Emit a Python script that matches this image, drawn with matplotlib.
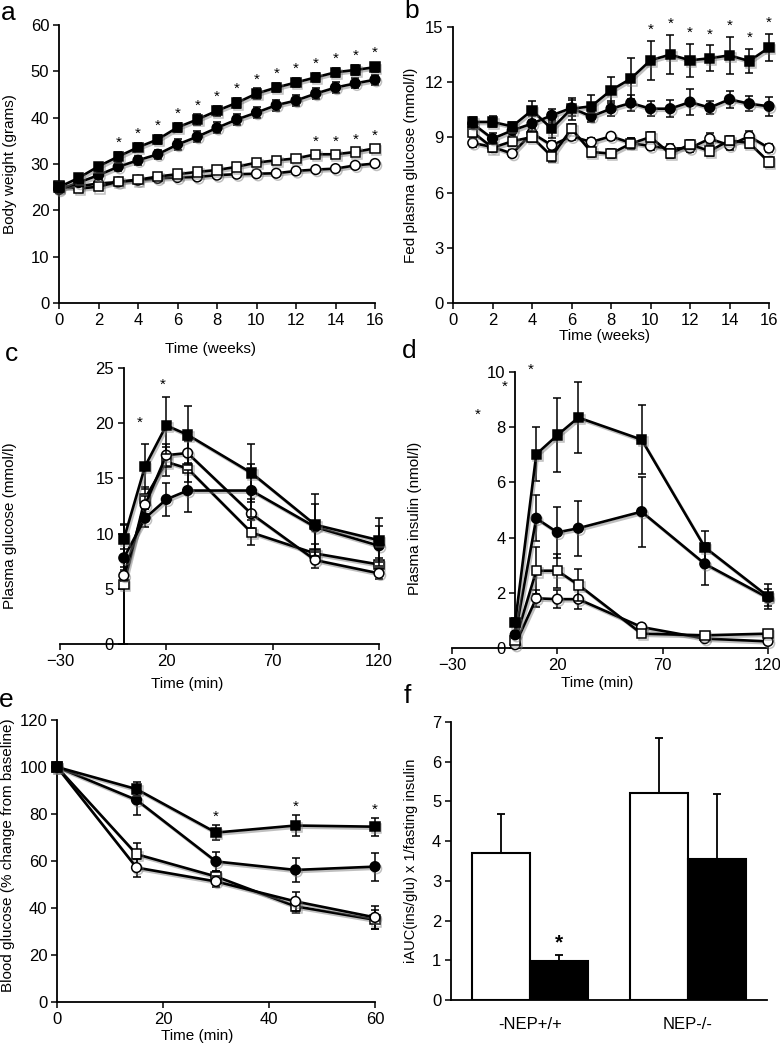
import matplotlib
matplotlib.use('Agg')
import matplotlib.pyplot as plt
import matplotlib.patheffects as pe
import numpy as np

plt.rcParams['font.family'] = ['Liberation Sans', 'DejaVu Sans']

# ---------------- Data ----------------
# Panel a: body weight (grams) vs weeks
weeks_a = list(range(0, 17))
a_fsq = [25.0, 27.0, 29.5, 31.6, 33.6, 35.3, 37.9, 39.6, 41.5, 43.2, 45.2, 46.5, 47.6, 48.7, 49.8, 50.3, 50.9]
a_fsq_err = [0.6, 0.7, 0.8, 0.9, 0.9, 1.0, 1.0, 1.1, 1.1, 1.1, 1.1, 1.0, 1.0, 1.0, 1.0, 1.0, 1.0]
a_fci = [24.5, 26.0, 27.6, 29.4, 30.8, 32.1, 34.2, 35.9, 37.8, 39.6, 41.1, 42.7, 43.7, 45.2, 46.5, 47.4, 48.2]
a_fci_err = [0.6, 0.7, 0.8, 0.9, 1.0, 1.0, 1.1, 1.2, 1.2, 1.2, 1.2, 1.2, 1.2, 1.2, 1.1, 1.1, 1.1]
a_osq = [25.3, 24.7, 25.1, 26.2, 26.6, 27.3, 27.8, 28.3, 28.7, 29.4, 30.3, 30.8, 31.2, 32.1, 32.1, 32.6, 33.4]
a_osq_err = [0.4, 0.4, 0.4, 0.4, 0.4, 0.4, 0.5, 0.5, 0.5, 0.5, 0.5, 0.5, 0.5, 0.5, 0.5, 0.5, 0.5]
a_oci = [24.8, 25.2, 25.8, 26.1, 26.5, 26.9, 27.1, 27.2, 27.6, 27.8, 27.9, 28.0, 28.5, 28.8, 29.0, 29.7, 30.1]
a_oci_err = [0.4, 0.4, 0.4, 0.4, 0.4, 0.4, 0.4, 0.4, 0.4, 0.4, 0.4, 0.4, 0.4, 0.4, 0.4, 0.4, 0.4]
a_star_fsq_weeks = list(range(3, 17))
a_star_osq_weeks = [13, 14, 15, 16]

# Panel b: fed plasma glucose (mmol/l) vs weeks
weeks_b = list(range(1, 17))
b_fsq = [9.84, 9.84, 9.6, 10.47, 9.47, 10.56, 10.69, 11.56, 12.19, 13.19, 13.5, 13.19, 13.3, 13.46, 13.15, 13.88]
b_fsq_err = [0.25, 0.3, 0.25, 0.5, 0.5, 0.6, 0.6, 0.7, 1.1, 1.05, 1.05, 0.9, 0.7, 1.0, 0.65, 0.75]
b_fci = [9.75, 8.93, 9.38, 9.75, 10.2, 10.6, 10.14, 10.56, 10.87, 10.56, 10.56, 10.92, 10.62, 11.07, 10.83, 10.69]
b_fci_err = [0.3, 0.3, 0.3, 0.4, 0.35, 0.45, 0.3, 0.4, 0.45, 0.4, 0.45, 0.7, 0.35, 0.45, 0.4, 0.5]
b_osq = [9.29, 8.44, 8.79, 9.02, 7.97, 9.47, 8.21, 8.12, 8.66, 9.02, 8.12, 8.62, 8.26, 8.84, 8.7, 7.66]
b_osq_err = [0.25, 0.25, 0.25, 0.25, 0.3, 0.25, 0.25, 0.25, 0.3, 0.25, 0.25, 0.25, 0.25, 0.25, 0.25, 0.25]
b_oci = [8.7, 8.48, 8.12, 9.24, 8.57, 9.06, 8.75, 9.06, 8.7, 8.53, 8.39, 8.42, 8.93, 8.57, 9.06, 8.42]
b_oci_err = [0.2, 0.2, 0.2, 0.25, 0.25, 0.2, 0.2, 0.2, 0.25, 0.2, 0.25, 0.2, 0.3, 0.25, 0.3, 0.2]
b_star_weeks = [10, 11, 12, 13, 14, 15, 16]

# Panel c: plasma glucose (mmol/l) during GTT
time_c = [0, 10, 20, 30, 60, 90, 120]
c_fsq = [9.5, 16.1, 19.8, 18.95, 15.5, 10.8, 9.4]
c_fsq_err = [1.4, 2.05, 2.6, 2.6, 2.6, 2.8, 2.0]
c_fci = [7.8, 11.4, 13.1, 13.9, 13.9, 10.6, 8.9]
c_fci_err = [0.8, 0.8, 1.5, 1.9, 2.4, 2.1, 1.8]
c_osq = [5.4, 13.2, 16.5, 15.9, 10.1, 8.2, 7.2]
c_osq_err = [5.4, 1.0, 1.3, 1.2, 1.1, 0.9, 0.6]
c_oci = [6.2, 12.6, 17.1, 17.3, 11.8, 7.6, 6.4]
c_oci_err = [0.5, 0.8, 1.0, 1.1, 1.3, 0.7, 0.5]

# Panel d: plasma insulin (nmol/l) during GTT
time_d = [0, 10, 20, 30, 60, 90, 120]
d_fsq = [0.93, 7.02, 7.71, 8.35, 7.55, 3.65, 1.87]
d_fsq_err = [0.15, 0.98, 1.33, 1.3, 1.25, 0.6, 0.45]
d_fci = [0.48, 4.7, 4.19, 4.34, 4.94, 3.05, 1.82]
d_fci_err = [0.1, 0.84, 0.93, 1.0, 1.27, 0.75, 0.3]
d_osq = [0.27, 2.8, 2.8, 2.29, 0.52, 0.46, 0.52]
d_osq_err = [0.05, 0.85, 0.62, 0.57, 0.1, 0.08, 0.08]
d_oci = [0.12, 1.8, 1.77, 1.77, 0.76, 0.34, 0.24]
d_oci_err = [0.03, 0.3, 0.32, 0.36, 0.12, 0.06, 0.05]

# Panel e: insulin tolerance, blood glucose (% of baseline)
time_e = [0, 15, 30, 45, 60]
e_fsq = [100, 90.6, 72.1, 75.1, 74.6]
e_fsq_err = [0, 3.0, 3.3, 4.5, 3.8]
e_fci = [100, 86.0, 59.8, 56.2, 57.6]
e_fci_err = [0, 6.4, 4.2, 5.0, 6.0]
e_osq = [100, 62.9, 53.4, 40.7, 35.0]
e_osq_err = [0, 4.7, 2.5, 3.0, 4.0]
e_oci = [100, 57.2, 51.3, 42.8, 36.0]
e_oci_err = [0, 3.8, 2.5, 4.0, 5.0]
e_star_times = [30, 45, 60]

# Panel f: iAUC bars
f_groups = ['-NEP+/+', 'NEP-/-']
f_white = [3.70, 5.21]
f_white_err = [0.98, 1.39]
f_black = [0.99, 3.55]
f_black_err = [0.14, 1.64]

# ---------------- Figure ----------------
W, H = 780, 1050
fig = plt.figure(figsize=(W / 100, H / 100), dpi=100)

TICK_FS = 12
LAB_FS = 11


def axes_px(l, r, t, b):
    return fig.add_axes([l / W, 1 - b / H, (r - l) / W, (b - t) / H])


shadow = [pe.SimpleLineShadow(offset=(1.2, -1.5), shadow_color='0.45', alpha=0.45), pe.Normal()]


def series(ax, x, y, err, marker, filled, z):
    cont = ax.errorbar(x, y, yerr=err, fmt='-', marker=marker, color='black',
                       mfc='black' if filled else 'white', mec='black', mew=1.1,
                       ms=6.8 if marker == 's' else 7.0, lw=1.9,
                       elinewidth=1.1, capsize=3, capthick=1.1, zorder=z)
    cont.lines[0].set_path_effects(shadow)
    for art in [cont.lines[0], *cont.lines[1], *cont.lines[2]]:
        art.set_clip_on(False)
    return cont


def style(ax):
    for s in ['top', 'right']:
        ax.spines[s].set_visible(False)
    for s in ['left', 'bottom']:
        ax.spines[s].set_linewidth(1.3)
    ax.tick_params(direction='out', length=4, width=1.1, labelsize=TICK_FS, pad=3)


def star(ax, x, y, fs=11):
    ax.text(x, y, '*', ha='center', va='center', fontsize=fs, clip_on=False)


# ---- a ----
ax = axes_px(59, 375, 25, 303)
style(ax)
series(ax, weeks_a, a_oci, a_oci_err, 'o', False, 3)
series(ax, weeks_a, a_osq, a_osq_err, 's', False, 4)
series(ax, weeks_a, a_fci, a_fci_err, 'o', True, 5)
series(ax, weeks_a, a_fsq, a_fsq_err, 's', True, 6)
for w in a_star_fsq_weeks:
    star(ax, w, a_fsq[weeks_a.index(w)] + 3.0)
for w in a_star_osq_weeks:
    star(ax, w, a_osq[weeks_a.index(w)] + 2.6)
ax.set_xlim(0, 16)
ax.set_ylim(0, 60)
ax.set_xticks(range(0, 17, 2))
ax.set_yticks(range(0, 61, 10))
ax.set_xlabel('Time (weeks)', fontsize=LAB_FS)
ax.set_ylabel('Body weight (grams)', fontsize=LAB_FS)
ax.xaxis.set_label_coords(0.478, -0.14)
ax.yaxis.set_label_coords(-0.133, 0.5)

# ---- b ----
ax = axes_px(453, 769, 27, 303)
style(ax)
series(ax, weeks_b, b_oci, b_oci_err, 'o', False, 3)
series(ax, weeks_b, b_osq, b_osq_err, 's', False, 4)
series(ax, weeks_b, b_fci, b_fci_err, 'o', True, 5)
series(ax, weeks_b, b_fsq, b_fsq_err, 's', True, 6)
for w in b_star_weeks:
    i = weeks_b.index(w)
    star(ax, w, b_fsq[i] + b_fsq_err[i] + 0.6)
ax.set_xlim(0, 16)
ax.set_ylim(0, 15)
ax.set_xticks(range(0, 17, 2))
ax.set_yticks(range(0, 16, 3))
ax.set_xlabel('Time (weeks)', fontsize=LAB_FS)
ax.set_ylabel('Fed plasma glucose (mmol/l)', fontsize=LAB_FS)
ax.xaxis.set_label_coords(0.48, -0.095)
ax.yaxis.set_label_coords(-0.111, 0.5)

# ---- c ----
ax = axes_px(60, 379, 368, 644)
style(ax)
ax.spines['left'].set_position(('data', 0))
series(ax, time_c, c_osq, c_osq_err, 's', False, 3)
series(ax, time_c, c_oci, c_oci_err, 'o', False, 4)
series(ax, time_c, c_fci, c_fci_err, 'o', True, 5)
series(ax, time_c, c_fsq, c_fsq_err, 's', True, 6)
star(ax, 7.5, 20.0)
star(ax, 18.3, 23.5)
ax.set_xlim(-30, 120)
ax.set_ylim(0, 25)
ax.set_xticks([-30, 20, 70, 120])
ax.set_yticks(range(0, 26, 5))
ax.set_xlabel('Time (min)', fontsize=LAB_FS)
ax.set_ylabel('Plasma glucose (mmol/l)', fontsize=LAB_FS)
ax.xaxis.set_label_coords(0.40, -0.12)
ax.yaxis.set_label_coords(-0.135, 0.43)

# ---- d ----
ax = axes_px(452, 768, 372, 648)
style(ax)
ax.spines['left'].set_position(('data', 0))
series(ax, time_d, d_oci, d_oci_err, 'o', False, 3)
series(ax, time_d, d_osq, d_osq_err, 's', False, 4)
series(ax, time_d, d_fci, d_fci_err, 'o', True, 5)
series(ax, time_d, d_fsq, d_fsq_err, 's', True, 6)
star(ax, 7.6, 10.07)
star(ax, -5.2, 9.46)
star(ax, -17.6, 8.44)
ax.set_xlim(-30, 120)
ax.set_ylim(0, 10)
ax.set_xticks([-30, 20, 70, 120])
ax.set_yticks(range(0, 11, 2))
ax.set_xlabel('Time (min)', fontsize=LAB_FS)
ax.set_ylabel('Plasma insulin (nmol/l)', fontsize=LAB_FS)
ax.xaxis.set_label_coords(0.46, -0.10)
ax.yaxis.set_label_coords(-0.095, 0.47)

# ---- e ----
ax = axes_px(57, 375, 720, 1002)
style(ax)
series(ax, time_e, e_oci, e_oci_err, 'o', False, 4)
series(ax, time_e, e_osq, e_osq_err, 's', False, 3)
series(ax, time_e, e_fci, e_fci_err, 'o', True, 5)
series(ax, time_e, e_fsq, e_fsq_err, 's', True, 6)
for t in e_star_times:
    i = time_e.index(t)
    star(ax, t, e_fsq[i] + e_fsq_err[i] + 3.5)
ax.set_xlim(0, 60)
ax.set_ylim(0, 120)
ax.set_xticks(range(0, 61, 20))
ax.set_yticks(range(0, 121, 20))
ax.set_xlabel('Time (min)', fontsize=LAB_FS)
ax.set_ylabel('Blood glucose (% change from baseline)', fontsize=LAB_FS)
ax.xaxis.set_label_coords(0.44, -0.094)
ax.yaxis.set_label_coords(-0.132, 0.52)

# ---- f ----
ax = axes_px(451, 767, 722, 1000)
style(ax)
xg = np.arange(len(f_groups))
bw = 0.37
ax.bar(xg - bw / 2, f_white, width=bw, color='white', edgecolor='black', linewidth=1.5,
       yerr=[np.zeros(2), f_white_err], capsize=3,
       error_kw=dict(elinewidth=1.3, capthick=1.3), zorder=3)
ax.bar(xg + bw / 2, f_black, width=bw, color='black', edgecolor='black', linewidth=1.5,
       yerr=[np.zeros(2), f_black_err], capsize=3,
       error_kw=dict(elinewidth=1.3, capthick=1.3), zorder=3)
ax.text(xg[0] + bw / 2, f_black[0] + f_black_err[0] + 0.3, '*', ha='center', va='center',
        fontsize=15, fontweight='bold')
ax.set_xlim(-0.5, 1.5)
ax.set_ylim(0, 7)
ax.set_yticks(range(0, 8))
ax.set_xticks(xg)
ax.set_xticklabels(f_groups, fontsize=TICK_FS)
ax.tick_params(axis='x', length=0, pad=12)
ax.set_ylabel('iAUC(ins/glu) x 1/fasting insulin', fontsize=10.5)
ax.yaxis.set_label_coords(-0.104, 0.5)

# ---- panel letters ----
for letter, x, yb in [('a', 1, 20), ('b', 404, 18), ('c', 5, 361),
                      ('d', 402, 358), ('e', -1, 707), ('f', 404, 703)]:
    fig.text(x / W, 1 - yb / H, letter, fontsize=19, va='baseline', ha='left')

fig.savefig('out.png', dpi=100)
